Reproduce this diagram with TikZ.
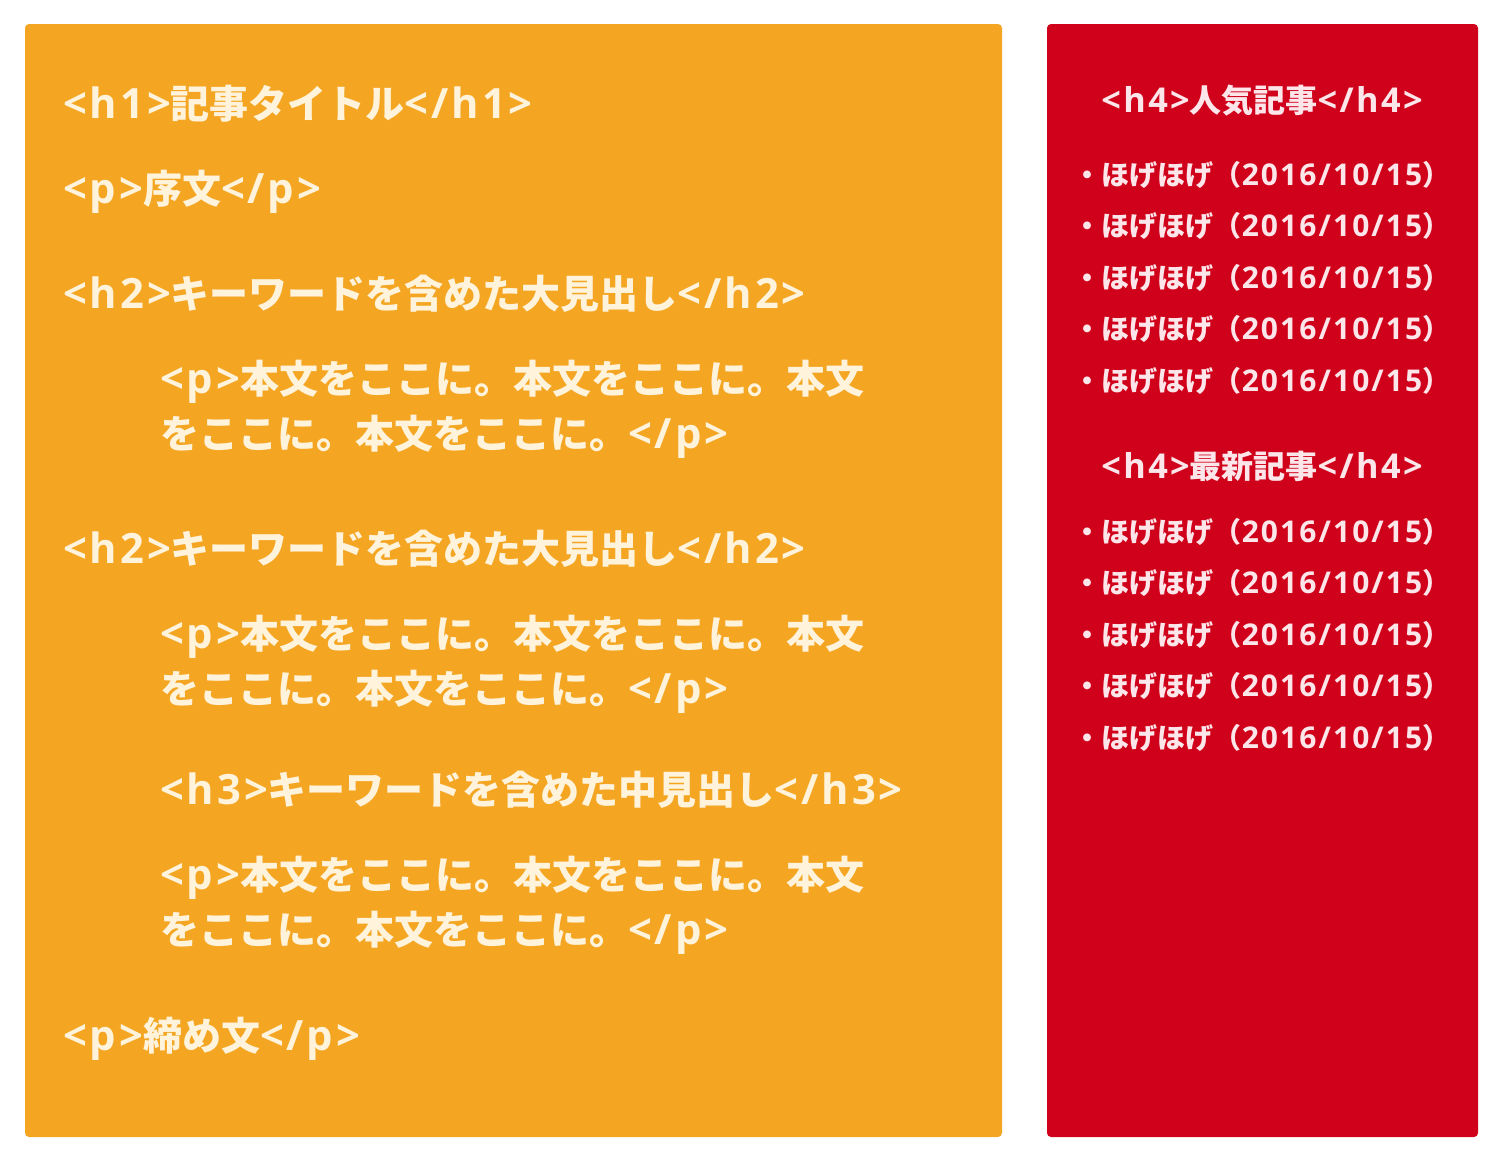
\documentclass[tikz,border=0pt]{standalone}
\usepackage{fontspec}
\setmainfont{Noto Sans CJK JP}
\newfontfamily\latinfont{Open Sans}[Scale=1.07, LetterSpace=7]
\newcommand\tagtxt[1]{{\latinfont\bfseries #1}}
\usetikzlibrary{positioning}
\definecolor{mainorange}{HTML}{F4A623}
\definecolor{sidered}{HTML}{D0021B}
\definecolor{cream}{HTML}{FFF3DC}
\definecolor{blush}{HTML}{FCE6EA}

\begin{document}
\begin{tikzpicture}[x=1pt, y=-1pt,
  mainbox/.style={fill=mainorange, rounded corners=4pt},
  sidebox/.style={fill=sidered, rounded corners=4pt},
  tagline/.style={anchor=west, inner sep=0pt, text=cream, align=left, font=\bfseries\fontsize{39}{55}\selectfont},
  sidehead/.style={inner sep=0pt, text=blush, font=\bfseries\fontsize{32}{38}\selectfont},
  sideitem/.style={inner sep=0pt, minimum height=51pt, text=blush, font=\bfseries\fontsize{28}{34}\selectfont}
]
\useasboundingbox (0,0) rectangle (1500,1159);
% two columns
\fill[mainbox] (25,24) rectangle (1002,1137);
\fill[sidebox] (1047,24) rectangle (1478,1137);
% main column
\node[tagline] (h1) at (63,104) {\tagtxt{<h1>}記事タイトル\tagtxt{</h1>}};
\node[tagline] (intro) at (63,192) {\tagtxt{<p>}序文\tagtxt{</p>}};
\node[tagline] (h2a) at (63,294) {\tagtxt{<h2>}キーワードを含めた大見出し\tagtxt{</h2>}};
\node[tagline] (pa) at (160,409) {\tagtxt{<p>}本文をここに。本文をここに。本文\\をここに。本文をここに。\tagtxt{</p>}};
\node[tagline] (h2b) at (63,549) {\tagtxt{<h2>}キーワードを含めた大見出し\tagtxt{</h2>}};
\node[tagline] (pb) at (160,664) {\tagtxt{<p>}本文をここに。本文をここに。本文\\をここに。本文をここに。\tagtxt{</p>}};
\node[tagline] (h3) at (160,790) {\tagtxt{<h3>}キーワードを含めた中見出し\tagtxt{</h3>}};
\node[tagline] (pc) at (160,905) {\tagtxt{<p>}本文をここに。本文をここに。本文\\をここに。本文をここに。\tagtxt{</p>}};
\node[tagline] (outro) at (63,1039) {\tagtxt{<p>}締め文\tagtxt{</p>}};
% side column
\node[sidehead] (pophead) at (1262,101) {\tagtxt{<h4>}人気記事\tagtxt{</h4>}};
\node[sideitem] (pop1) at (1262,175) {・ほげほげ（\tagtxt{2016/10/15}）};
\node[sideitem, below=0pt of pop1] (pop2) {・ほげほげ（\tagtxt{2016/10/15}）};
\node[sideitem, below=0pt of pop2] (pop3) {・ほげほげ（\tagtxt{2016/10/15}）};
\node[sideitem, below=0pt of pop3] (pop4) {・ほげほげ（\tagtxt{2016/10/15}）};
\node[sideitem, below=0pt of pop4] (pop5) {・ほげほげ（\tagtxt{2016/10/15}）};
\node[sidehead] (newhead) at (1262,466) {\tagtxt{<h4>}最新記事\tagtxt{</h4>}};
\node[sideitem] (new1) at (1262,532) {・ほげほげ（\tagtxt{2016/10/15}）};
\node[sideitem, below=0pt of new1] (new2) {・ほげほげ（\tagtxt{2016/10/15}）};
\node[sideitem, below=0pt of new2] (new3) {・ほげほげ（\tagtxt{2016/10/15}）};
\node[sideitem, below=0pt of new3] (new4) {・ほげほげ（\tagtxt{2016/10/15}）};
\node[sideitem, below=0pt of new4] (new5) {・ほげほげ（\tagtxt{2016/10/15}）};
\end{tikzpicture}
\end{document}
